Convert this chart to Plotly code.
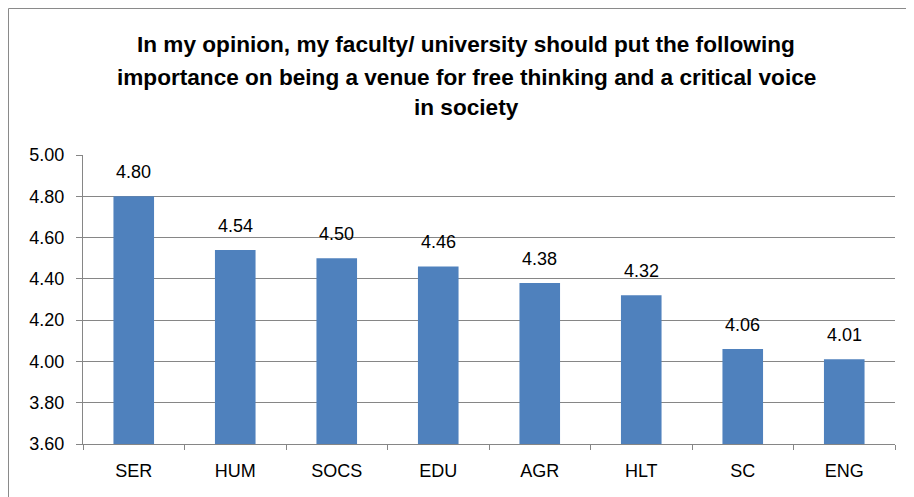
import plotly.graph_objects as go

categories = ["SER", "HUM", "SOCS", "EDU", "AGR", "HLT", "SC", "ENG"]
values = [4.80, 4.54, 4.50, 4.46, 4.38, 4.32, 4.06, 4.01]
tick_vals = [3.6, 3.8, 4.0, 4.2, 4.4, 4.6, 4.8, 5.0]
title_lines = [
    "In my opinion, my faculty/ university should put the following",
    "importance on being a venue for free thinking and a critical voice",
    "in society",
]

TITLE_FONT = "Liberation Sans, Arial, sans-serif"
BODY = "Liberation Sans, Arial, sans-serif"
GRID = "#868686"

# page has an 8px body margin: work in figure coordinates = page - 8
OFF = 8
FW, FH = 914 - OFF, 497 - OFF
L, R, T, B = 83 - OFF, 895 - OFF, 155 - OFF, 444 - OFF
W, H = R - L, B - T


def px(xp):
    return (xp - OFF - L) / W


def py(yp):
    return (B - (yp - OFF)) / H


fig = go.Figure()
fig.add_trace(go.Bar(
    x=categories, y=values, marker=dict(color="#4F81BD", line=dict(width=0)),
    hoverinfo="skip",
))

annotations = []
for c, v in zip(categories, values):
    annotations.append(dict(
        x=c, y=v, xref="x", yref="y", text=f"{v:.2f}", showarrow=False,
        yanchor="bottom", yshift=12, font=dict(family=BODY, size=18, color="#000000"),
    ))
title_y = [45, 77, 108]
for line, yp in zip(title_lines, title_y):
    annotations.append(dict(
        x=px(466), y=py(yp), xref="paper", yref="paper", text=f"<b>{line}</b>",
        showarrow=False, xanchor="center", yanchor="middle",
        font=dict(family=TITLE_FONT, size=22.6, color="#000000"),
    ))

fig.update_layout(
    width=FW, height=FH,
    margin=dict(l=L, r=FW - R, t=T, b=FH - B, pad=0),
    paper_bgcolor="white", plot_bgcolor="white",
    showlegend=False,
    bargap=0.6,
    annotations=annotations,
    shapes=[dict(
        type="rect", xref="paper", yref="paper",
        x0=px(8.5), x1=px(940), y0=py(8.5), y1=py(540),
        line=dict(color="#8A8A8A", width=1), fillcolor="rgba(0,0,0,0)", layer="below",
    )],
    xaxis=dict(
        type="category", showgrid=False, showline=True, linecolor=GRID, linewidth=1,
        ticks="outside", tickson="boundaries", ticklen=5, tickcolor=GRID,
        tickfont=dict(family=BODY, size=18, color="#000000"),
        ticklabelstandoff=10,
    ),
    yaxis=dict(
        range=[3.6, 5.0], tickvals=tick_vals, ticktext=[f"{t:.2f}" for t in tick_vals],
        showgrid=True, gridcolor=GRID, gridwidth=1,
        showline=True, linecolor=GRID, linewidth=1,
        ticks="outside", ticklen=6, tickcolor=GRID,
        tickfont=dict(family=BODY, size=18, color="#000000"),
        ticklabelstandoff=8,
        zeroline=False,
    ),
)

fig.write_html("out.html")
